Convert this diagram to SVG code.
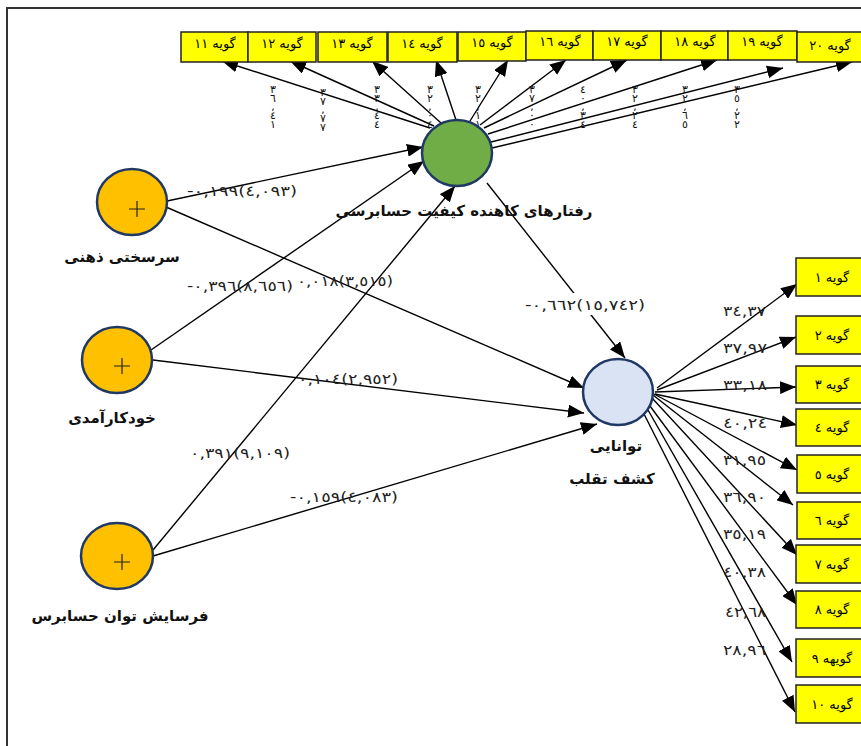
<svg xmlns="http://www.w3.org/2000/svg" width="861" height="746" viewBox="0 0 861 746">
<defs>
<style>
.frame{fill:#fff;stroke:#333;stroke-width:2}
.box{fill:#ffff00;stroke:#222;stroke-width:1.5}
.bt{font-family:"DejaVu Sans",sans-serif;font-size:13px;fill:#000;text-anchor:middle}
.lbl{font-family:"DejaVu Sans",sans-serif;font-size:15px;font-weight:bold;fill:#111;text-anchor:middle}
.num{font-family:"DejaVu Sans",sans-serif;font-size:14px;fill:#222;unicode-bidi:bidi-override;direction:ltr}
.vn{font-family:"DejaVu Sans",sans-serif;font-size:11px;fill:#111;text-anchor:middle}
.c{stroke:#000;stroke-width:1.4;fill:none;marker-end:url(#ah)}
.ex{stroke:#1f3864;stroke-width:2.5}
.plus{stroke:#222;stroke-width:1.2}
</style>
<marker id="ah" markerUnits="userSpaceOnUse" markerWidth="17" markerHeight="13" refX="16" refY="6.5" orient="auto">
<path d="M0,0 L16,6.5 L0,13 Z" fill="#000"/>
</marker>
</defs>
<rect class="frame" x="7" y="8" width="900" height="800"/>

<g id="connectors">
<path class="c" d="M430,128 L222,61"/>
<path class="c" d="M434,126 L290,61"/>
<path class="c" d="M441,123 L372,61"/>
<path class="c" d="M456,120 L436,60"/>
<path class="c" d="M470,121 L508,60"/>
<path class="c" d="M480,125 L566,60"/>
<path class="c" d="M484,128 L627,60"/>
<path class="c" d="M488,134 L717,60"/>
<path class="c" d="M491,142 L783,68"/>
<path class="c" d="M492,148 L852,62"/>
<path class="c" d="M167,201 L423,147"/>
<path class="c" d="M166,207 L584,388"/>
<path class="c" d="M151,350 L424,161"/>
<path class="c" d="M153,360 L584,413"/>
<path class="c" d="M153,550 L455,186"/>
<path class="c" d="M153,556 L597,424"/>
<path class="c" d="M487,183 L625,358"/>
<path class="c" d="M657,388 L797,284"/>
<path class="c" d="M657,390 L796,337"/>
<path class="c" d="M655,392 L796,387"/>
<path class="c" d="M655,394 L797,425"/>
<path class="c" d="M654,394 L797,470"/>
<path class="c" d="M653,395 L793,505"/>
<path class="c" d="M652,398 L797,555"/>
<path class="c" d="M650,406 L797,605"/>
<path class="c" d="M648,410 L792,662"/>
<path class="c" d="M644,414 L795,712"/>
</g>

<g id="path-labels">
<text class="num" x="187" y="196" textLength="110" lengthAdjust="spacingAndGlyphs">-٠,١٩٩(٤,٠٩٣)</text>
<text class="num" x="187" y="291" textLength="106" lengthAdjust="spacingAndGlyphs">-٠,٣٩٦(٨,٦٥٦)</text>
<text class="num" x="297" y="286" textLength="96" lengthAdjust="spacingAndGlyphs">٠,٠١٨(٣,٥١٥)</text>
<text class="num" x="298" y="384" textLength="100" lengthAdjust="spacingAndGlyphs">٠,١٠٤(٢,٩٥٢)</text>
<text class="num" x="190" y="458" textLength="100" lengthAdjust="spacingAndGlyphs">٠,٣٩١(٩,١٠٩)</text>
<text class="num" x="290" y="502" textLength="108" lengthAdjust="spacingAndGlyphs">-٠,١٥٩(٤,٠٨٣)</text>
<rect x="522" y="293" width="126" height="22" fill="#fff"/>
<text class="num" x="525" y="310" textLength="120" lengthAdjust="spacingAndGlyphs">-٠,٦٦٢(١٥,٧٤٢)</text>
<text class="num" x="723" y="316" textLength="43" lengthAdjust="spacingAndGlyphs">٣٤,٣٧</text>
<text class="num" x="723" y="353" textLength="44" lengthAdjust="spacingAndGlyphs">٣٧,٩٧</text>
<text class="num" x="723" y="390" textLength="44" lengthAdjust="spacingAndGlyphs">٣٣,١٨</text>
<text class="num" x="723" y="428" textLength="44" lengthAdjust="spacingAndGlyphs">٤٠,٢٤</text>
<text class="num" x="723" y="465" textLength="43" lengthAdjust="spacingAndGlyphs">٣١,٩٥</text>
<text class="num" x="723" y="502" textLength="43" lengthAdjust="spacingAndGlyphs">٣٦,٩٠</text>
<text class="num" x="723" y="539" textLength="43" lengthAdjust="spacingAndGlyphs">٣٥,١٩</text>
<text class="num" x="723" y="577" textLength="43" lengthAdjust="spacingAndGlyphs">٤٠,٣٨</text>
<text class="num" x="725" y="617" textLength="41" lengthAdjust="spacingAndGlyphs">٤٢,٦٨</text>
<text class="num" x="723" y="655" textLength="43" lengthAdjust="spacingAndGlyphs">٢٨,٩٦</text>
<text class="vn"><tspan x="273" y="93">٣</tspan><tspan x="273" y="102">٦</tspan><tspan x="273" y="110">,</tspan><tspan x="273" y="119">٤</tspan><tspan x="273" y="128">١</tspan></text>
<text class="vn"><tspan x="323" y="96">٣</tspan><tspan x="323" y="105">٧</tspan><tspan x="323" y="113">,</tspan><tspan x="323" y="122">٧</tspan><tspan x="323" y="131">٧</tspan></text>
<text class="vn"><tspan x="377" y="93">٣</tspan><tspan x="377" y="102">٣</tspan><tspan x="377" y="110">,</tspan><tspan x="377" y="119">٤</tspan><tspan x="377" y="128">٤</tspan></text>
<text class="vn"><tspan x="430" y="93">٣</tspan><tspan x="430" y="102">٢</tspan><tspan x="430" y="110">,</tspan><tspan x="430" y="119">٠</tspan><tspan x="430" y="128">٤</tspan></text>
<text class="vn"><tspan x="478" y="93">٣</tspan><tspan x="478" y="102">٢</tspan><tspan x="478" y="110">,</tspan><tspan x="478" y="119">١</tspan><tspan x="478" y="128">١</tspan></text>
<text class="vn"><tspan x="532" y="93">٣</tspan><tspan x="532" y="102">٧</tspan><tspan x="532" y="110">,</tspan><tspan x="532" y="119">٠</tspan><tspan x="532" y="128">٠</tspan></text>
<text class="vn"><tspan x="583" y="93">٤</tspan><tspan x="583" y="102">٠</tspan><tspan x="583" y="110">,</tspan><tspan x="583" y="119">٣</tspan><tspan x="583" y="128">٤</tspan></text>
<text class="vn"><tspan x="635" y="93">٣</tspan><tspan x="635" y="102">٢</tspan><tspan x="635" y="110">,</tspan><tspan x="635" y="119">٢</tspan><tspan x="635" y="128">٤</tspan></text>
<text class="vn"><tspan x="685" y="93">٣</tspan><tspan x="685" y="102">٢</tspan><tspan x="685" y="110">,</tspan><tspan x="685" y="119">٦</tspan><tspan x="685" y="128">٥</tspan></text>
<text class="vn"><tspan x="737" y="93">٣</tspan><tspan x="737" y="102">٥</tspan><tspan x="737" y="110">,</tspan><tspan x="737" y="119">٢</tspan><tspan x="737" y="128">٢</tspan></text>
</g>

<g id="q11"><rect class="box" x="181" y="32" width="67" height="30"/><text class="bt" x="215" y="48">گویه ١١</text></g>
<g id="q12"><rect class="box" x="248" y="32" width="68" height="30"/><text class="bt" x="282" y="48">گویه ١٢</text></g>
<g id="q13"><rect class="box" x="318" y="32" width="69" height="30"/><text class="bt" x="352" y="48">گویه ١٣</text></g>
<g id="q14"><rect class="box" x="388" y="32" width="69" height="30"/><text class="bt" x="422" y="48">گویه ١٤</text></g>
<g id="q15"><rect class="box" x="458" y="32" width="68" height="29"/><text class="bt" x="492" y="47">گویه ١٥</text></g>
<g id="q16"><rect class="box" x="526" y="31" width="67" height="29"/><text class="bt" x="560" y="46">گویه ١٦</text></g>
<g id="q17"><rect class="box" x="593" y="31" width="68" height="29"/><text class="bt" x="627" y="46">گویه ١٧</text></g>
<g id="q18"><rect class="box" x="661" y="31" width="67" height="29"/><text class="bt" x="695" y="46">گویه ١٨</text></g>
<g id="q19"><rect class="box" x="728" y="31" width="69" height="29"/><text class="bt" x="762" y="46">گویه ١٩</text></g>
<g id="q20"><rect class="box" x="797" y="32" width="72" height="30"/><text class="bt" x="830" y="50">گویه ٢٠</text></g>

<g id="q1"><rect class="box" x="796" y="258" width="72" height="38"/><text class="bt" x="832" y="282">گویه ١</text></g>
<g id="q2"><rect class="box" x="796" y="316" width="72" height="38"/><text class="bt" x="832" y="340">گویه ٢</text></g>
<g id="q3"><rect class="box" x="796" y="366" width="72" height="37"/><text class="bt" x="832" y="389">گویه ٣</text></g>
<g id="q4"><rect class="box" x="796" y="409" width="72" height="37"/><text class="bt" x="832" y="432">گویه ٤</text></g>
<g id="q5"><rect class="box" x="797" y="455" width="72" height="38"/><text class="bt" x="832" y="479">گویه ٥</text></g>
<g id="q6"><rect class="box" x="797" y="502" width="72" height="37"/><text class="bt" x="832" y="525">گویه ٦</text></g>
<g id="q7"><rect class="box" x="796" y="545" width="72" height="38"/><text class="bt" x="832" y="569">گویه ٧</text></g>
<g id="q8"><rect class="box" x="796" y="591" width="72" height="37"/><text class="bt" x="832" y="614">گویه ٨</text></g>
<g id="q9"><rect class="box" x="796" y="639" width="72" height="38"/><text class="bt" x="832" y="663">گویهه ٩</text></g>
<g id="q10"><rect class="box" x="796" y="685" width="72" height="38"/><text class="bt" x="832" y="709">گویه ١٠</text></g>

<g id="n-reduce">
<ellipse class="ex" cx="457" cy="153" rx="35" ry="33" fill="#70ad47"/>
<text class="lbl" x="464" y="216">رفتارهای کاهنده کیفیت حسابرسی</text>
</g>
<g id="n-fraud">
<ellipse class="ex" cx="618" cy="392" rx="35" ry="33" fill="#dae3f3"/>
<text class="lbl" x="616" y="451">توانایی</text>
<text class="lbl" x="612" y="484">کشف تقلب</text>
</g>
<g id="n-hardiness">
<ellipse class="ex" cx="132" cy="202" rx="35" ry="33" fill="#ffc000"/>
<path class="plus" d="M129,209 H145 M137,201 V217"/>
<text class="lbl" x="122" y="262" font-size="16">سرسختی ذهنی</text>
</g>
<g id="n-efficacy">
<ellipse class="ex" cx="117" cy="360" rx="35" ry="33" fill="#ffc000"/>
<path class="plus" d="M114,366 H130 M122,358 V374"/>
<text class="lbl" x="112" y="423">خودکارآمدی</text>
</g>
<g id="n-erosion">
<ellipse class="ex" cx="117" cy="556" rx="36" ry="33" fill="#ffc000"/>
<path class="plus" d="M114,562 H130 M122,554 V570"/>
<text class="lbl" x="120" y="621">فرسایش توان حسابرس</text>
</g>
</svg>
